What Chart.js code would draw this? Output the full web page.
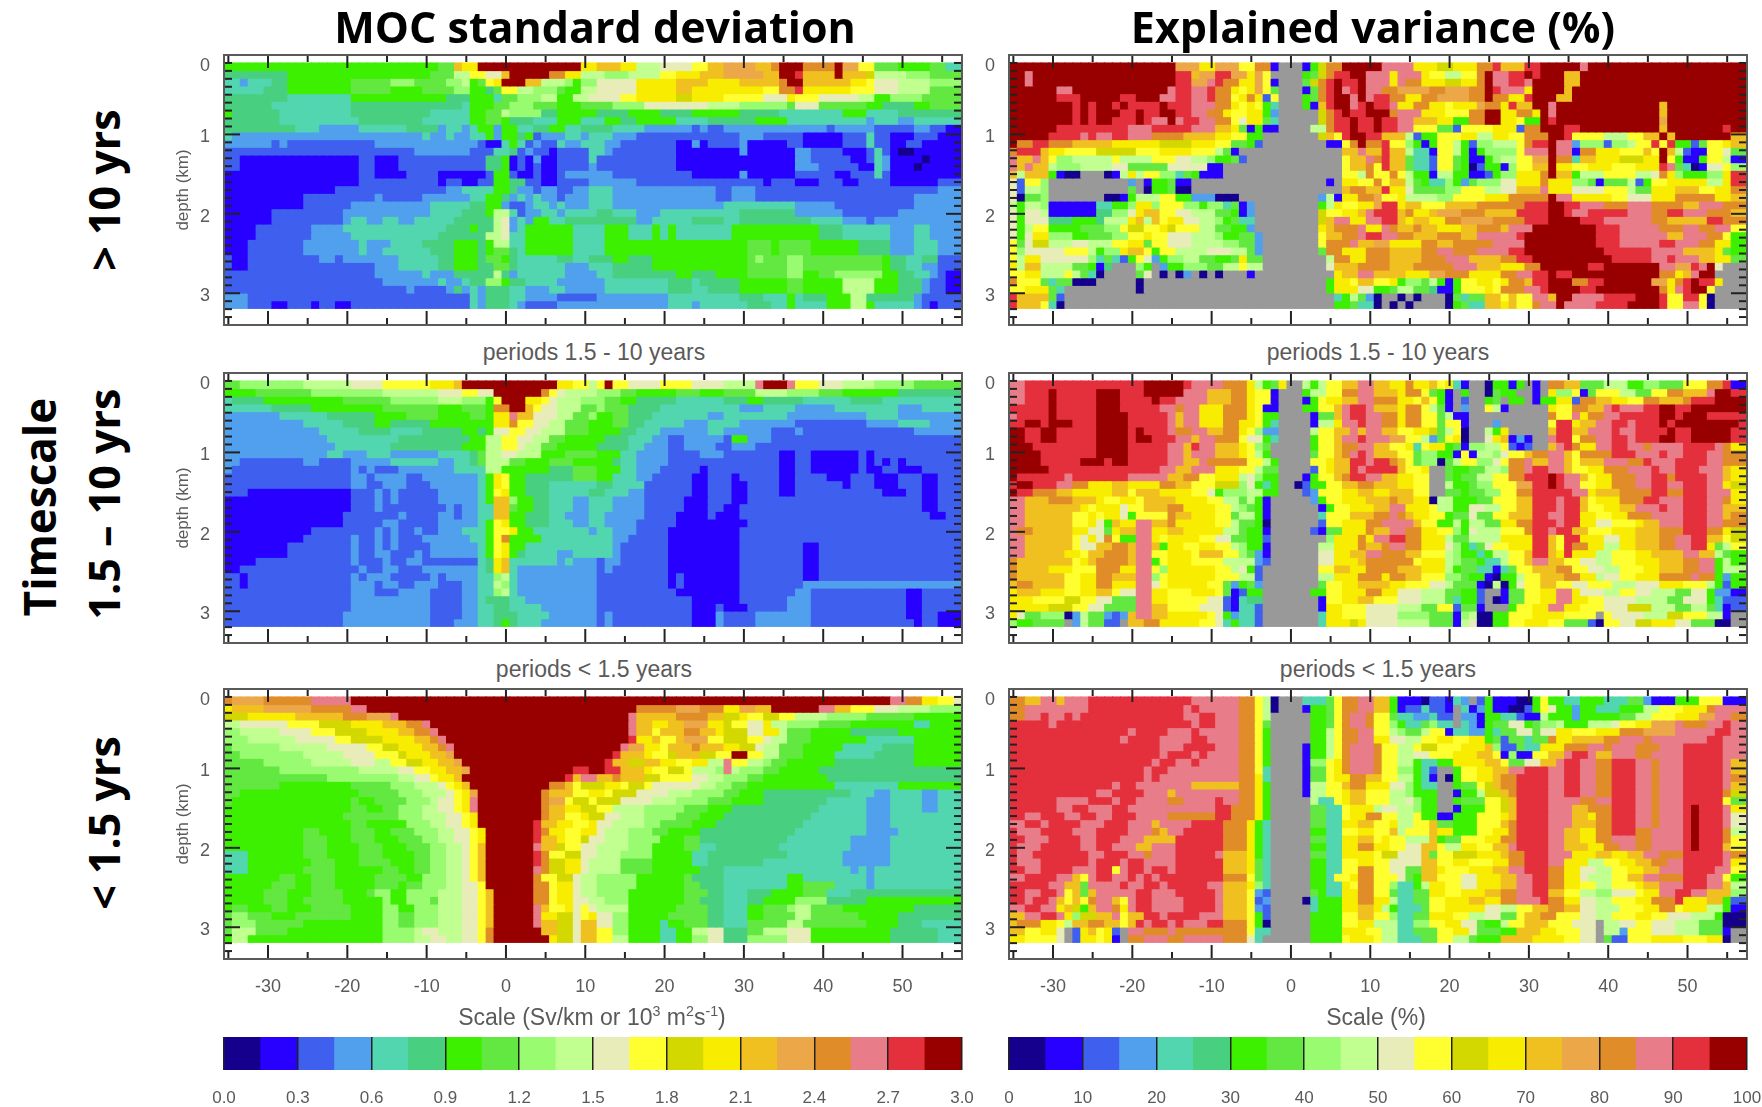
<!DOCTYPE html>
<html>
<head>
<meta charset="utf-8">
<title>MOC standard deviation and explained variance</title>
<script src="https://cdn.jsdelivr.net/npm/chart.js@4"></script>
<style>
html, body { margin: 0; padding: 0; background: #fff; }
#page { position: relative; width: 1762px; height: 1107px; overflow: hidden; font-family: "Liberation Sans", sans-serif; }
canvas { position: absolute; filter: blur(0.6px); }
.txt { position: absolute; transform: translate(-50%, -50%); white-space: nowrap; color: #5a5a5a; }
.big { font-family: "Open Sans", sans-serif; font-weight: 700; color: #000; }
.rot { transform: translate(-50%, -50%) rotate(-90deg); }
sup { font-size: 62%; line-height: 0; }
</style>
</head>
<body>
<div id="page"></div>
<script>
// longitude of each cell centre, depth layout of the rows
var lonCenters = [];
for (var lon = -35; lon <= 57; lon++) lonCenters.push(lon);
var surfaceDepth = 0.1;
var rowThickness = 0.0966;

var xMajorTicks = [-30, -20, -10, 0, 10, 20, 30, 40, 50];
var xMinorTicks = [-35, -25, -15, -5, 5, 15, 25, 35, 45, 55];
var depthTicks = [0.1, 1, 2, 3];
var depthTickLabels = ['0', '1', '2', '3'];

// colour levels a..t, 20 steps of the scale, z = no data
var levelCodes = 'abcdefghijklmnopqrst';
var levelColors = ['#14008c', '#2800ff', '#3f5fef', '#50a0ee', '#52d6b0', '#48d080', '#3cf000', '#62e840', '#98fb70', '#c0ff90',
                   '#e8ecb8', '#ffff30', '#d2d800', '#f8ec00', '#f0c020', '#eca848', '#e08c28', '#e87c88', '#e4303c', '#980000'];
var missingColor = '#999999';

var sdScaleTicks = [0, 0.3, 0.6, 0.9, 1.2, 1.5, 1.8, 2.1, 2.4, 2.7, 3.0];
var evScaleTicks = [0, 10, 20, 30, 40, 50, 60, 70, 80, 90, 100];

// each row is one depth level, tokens are level + longitude where that level starts
var sdLong = [
"g-36 h-8 o-6 n-5 t-3 n10 o12 n15 j17 k20 l24 o26 p28 o32 q34 t35 q38 t42 p43 l45 h47 g50 h54 e56",
"g-36 f-35 g-27 h-9 j-6 l-4 k-2 o0 t1 q6 n8 j10 i13 j16 l20 n22 o25 p28 o33 t35 s37 o38 t42 o43 m46 j47 i51 h54",
"f-36 e-35 d-33 e-32 f-29 g-27 h-19 i-14 h-11 i-7 j-5 g-4 h-3 l-2 n-1 t0 o3 j5 i8 g9 i10 k12 n17 o22 n26 o30 q35 t36 o38 n44 l46 k47 j50 i54",
"e-36 f-30 g-27 h-19 g-14 h-10 i-6 g-4 f-2 h-1 l0 j2 i4 h7 g8 j10 k12 n17 o22 n24 l33 q35 s37 n38 l44 k47 j50 h54",
"e-36 f-35 e-27 g-19 f-7 g-4 e-1 h0 i2 j5 g7 j9 k11 l15 n17 m22 n24 l28 k33 n36 l37 k40 j45 g47 i49 h53",
"f-36 e-29 f-19 e-5 g-4 h-1 i1 h4 g7 h10 i14 k18 j26 i30 h36 k37 h40 g46 f48 g52 h54",
"g-36 f-34 e-28 f-19 e-9 g-4 h-2 j0 i1 f5 g7 f12 g16 f20 g24 f30 e35 g43 e46 f50",
"f-36 e-28 f-18 e-10 g-4 h-2 g0 f1 e4 g7 e10 g13 f15 g17 e22 f26 g32 e36 d46 e47 d50 e52",
"f-36 e-26 d-23 e-18 f-12 d-8 e-7 d-5 e-4 g-3 d-1 g0 e2 f4 g6 e8 f10 e14 d18 c24 d25 c26 d28 c41 d42 c47 d52 c54 b56",
"e-36 d-34 e-10 d-9 e-7 d-6 e-4 g-2 d-1 g0 f2 g3 c4 d5 e8 d10 e11 d14 c17 d30 c33 b38 c43 e46 c47 b49 c52 b55",
"d-36 c-29 d-28 c-27 d-16 c-3 b-2 e0 g1 e2 c3 d4 c5 e7 d8 e10 d13 c15 b22 d24 b25 c26 d30 b31 c36 b38 c43 e46 c47 b49 c51 b53",
"c-36 d-11 c-4 e-1 f1 c2 d3 c4 b6 c7 e11 d13 c14 b22 d30 b31 d37 c39 b43 c46 e47 c48 b49 a50 b52",
"c-36 b-33 c-18 b-16 c-13 f-2 g0 b1 c2 b3 d4 b5 c7 e11 c12 b22 d37 c39 b44 c46 e47 d48 b49 a53 b54",
"c-36 b-33 c-18 b-16 c-13 f-2 g0 b1 c2 b3 c4 b5 c7 d11 c12 b22 d37 c40 b45 c47 e47 d48 b49 a52 b53",
"b-36 c-18 b-16 c-13 b-13 c-12 b-8 c-2 g-1 c1 b2 c4 b5 c7 d8 d13 c14 b24 d30 b31 c37 b42 c44 e47 c48 b49",
"b-36 c-18 b-8 c-7 b-5 c-3 g-1 f1 c3 b5 c7 d11 c17 d19 c19 b33 c34 b37 c40 b43 c45 b49 c55",
"b-36 c-21 d-7 e-5 g-1 f1 d2 c4 d5 c7 d9 e11 d14 c27 d29 c32 d55",
"b-36 c-25 d-16 c-15 d-10 e-4 g-2 f0 d1 e2 d3 e4 d5 c7 d8 e11 d14 c27 d29 c32 d52",
"b-36 c-25 d-19 e-9 f-4 g-2 d0 c1 d3 e4 d6 e7 d8 e11 d14 e28 d37 c42 d52",
"b-36 c-29 d-20 e-9 f-5 g-2 j-1 e1 c2 d3 e5 d7 e8 f12 e14 d17 e20 e28 f30 d37 c43 d50",
"b-36 c-29 d-20 e-19 d-17 e-15 d-13 e-11 f-6 j-1 k0 d1 e2 d3 g4 e6 f8 d17 e19 f24 e28 f30 e39 d43 c46 d47",
"b-36 c-31 d-24 e-20 e-15 f-7 g-4 f-3 j-1 k0 d1 e2 g3 e9 g13 e16 g19 e20 g21 e22 g29 f40 e43 d49 e52 d54",
"b-36 c-31 d-24 e-19 f-8 j-2 k0 e1 g3 e9 g13 e16 g19 e20 g21 e22 g29 f40 e43 d49 e52 d54",
"b-36 c-32 d-25 e-18 d-17 e-14 f-10 g-6 f-3 g-2 j-1 e1 g3 e9 g13 h31 g34 h35 g39 f45 d49 e52 d55",
"b-36 c-32 d-25 e-18 d-17 e-15 f-9 g-6 f-3 g-2 h-1 f1 e2 g3 e9 g13 h31 g34 h35 g39 f45 d49 e52 d55",
"c-36 b-34 c-32 d-23 c-21 d-20 e-13 f-8 g-6 f-3 h-2 g0 f1 e2 f7 e9 f11 g14 f16 g19 h31 i32 h33 i36 h38 g48 f49 e51 f53 c55",
"c-36 b-34 c-32 d-16 e-13 f-8 g-6 f-3 h-1 f1 e2 d8 e11 f14 g19 h31 i36 h38 g48 f49 e51 d53 c55",
"c-36 d-16 e-10 d-9 f-6 j-1 f0 d1 e2 d8 e12 f14 g22 f24 g27 h31 i36 g38 h40 i42 g48 f50 e52 d54 c55 b56",
"c-36 d-15 e-8 d-7 e-5 f-4 i-2 g0 f1 e3 d7 e13 f21 e24 f25 g30 h36 g38 j43 g47 f50 d53 c54 b56",
"c-36 d-12 c-11 d-7 f-6 d-5 e-4 d-3 f-2 e1 d3 e6 d8 e13 f21 e24 f26 g30 h36 g38 j43 g47 f50 d53 c54 b56",
"d-36 c-32 e-4 d-3 f-2 e1 d3 c7 d12 e21 f30 e33 g36 e37 f38 g41 j44 f46 d52 c53",
"d-36 c-32 b-29 c-27 b-24 c-23 b-21 c-19 e-4 d-3 f-2 e1 d2 c3 d7 e21 d24 e25 f31 e34 g36 e37 g41 j44 g46 e47 d52 c53 b54 c55"
];

var sdMid = [
"h-36 i-33 j-25 k-19 l-15 n-9 o-6 t-5 n7 l9 j11 l12 t13 l14 k16 l20 k24 j28 r32 t33 r36 l37 k40 j43 i47 h52",
"g-36 h-31 i-24 j-15 k-8 l-5 k-3 t-1 q5 l6 k7 j8 i12 h15 g17 h22 g25 h28 j32 i36 h40 g43 f50",
"e-36 f-34 g-30 h-20 i-14 j-8 i-5 g-2 l-1 t0 n3 l5 k6 j7 i10 h13 g15 f17 e22 f28 g31 f33 e38 f44 e48",
"d-36 e-35 f-29 g-24 h-15 g-8 h-5 g-2 q-1 t1 o3 l4 k5 j7 h10 i12 h13 f16 e20 d30 e33 d37 e42 d50 e53",
"d-36 e-28 f-22 g-16 h-12 g-8 h-4 g-2 n-1 r1 o2 k4 j7 h9 i11 g12 h14 f16 e19 d26 e28 d36 e46 d50",
"d-36 e-25 f-20 g-16 f-14 g-9 g-5 g-2 n-1 q1 l2 k4 j6 h8 g11 h14 f16 e18 d23 e26 d30 c37 d46 e50 d54",
"d-36 e-23 f-18 e-14 f-10 g-5 f-3 g-2 k-1 l1 k3 j5 h8 g11 f15 e17 d20 e26 d28 c34 d37 c38 d52",
"d-36 e-22 f-13 g-4 j-2 l0 k2 j4 h6 g8 f13 e16 d19 c21 d23 c28 g29 d31 c34",
"d-36 e-21 f-14 g-5 j-2 l0 k2 j3 h5 g7 f12 e16 d18 c21 d23 c27 d29 c32",
"d-36 e-22 d-20 e-17 d-14 e-8 f-4 h-3 j-2 k0 j2 g5 h8 g12 e15 d17 c21 d25 c28 b35 c37 b39 c45 b46 c47",
"d-36 c-33 d-25 c-23 d-19 e-14 d-8 e-6 f-4 h-3 j-2 h1 g3 h6 g9 f14 e15 d17 c21 c24 b35 c37 b39 c45 b46 c47 b48 c49 b50 c51",
"d-36 c-34 d-19 c-18 d-17 c-16 d-13 e-6 j-2 g0 g3 f6 h9 g12 e15 d17 c20 b25 c26 c31 b35 c37 b39 c45 b46 b47 c48 b50 b52 c53",
"c-36 d-19 c-17 d-16 c-12 d-10 e-3 g-2 n-1 l0 g1 f3 f6 h9 g12 e14 d17 c19 b24 c26 b29 c30 b35 c37 b41 c44 b47 c50 b53 c55",
"c-36 d-19 c-17 d-15 c-12 d-9 e-3 g-2 n-1 l0 g1 f3 e6 f12 e14 c18 b24 c26 b29 c31 b35 c37 b43 c44 b47 c50 b53 c55",
"c-36 b-32 c-19 d-16 c-15 d-14 c-13 d-8 e-3 g-2 l-1 n0 g1 f3 e6 f11 e13 d16 c18 b24 c26 b29 c31 b35 c37 b48 c51 b53 c55",
"c-36 b-35 c-19 d-16 c-15 d-14 c-13 d-8 e-3 g-2 o-1 i1 g2 f4 e6 d9 e11 d14 c18 b23 c26 b29 c31 c37 b53 c55",
"b-36 c-19 d-16 c-15 d-13 c-13 d-7 c-6 d-5 e-3 o-1 h1 g2 f4 e6 d9 e11 d14 c18 b23 c26 b28 c30 b53 c55",
"b-36 c-20 d-13 c-12 d-8 c-6 d-5 e-3 o-1 g1 f3 e6 d8 e11 d13 c18 b22 c26 b27 c30 b54 c56",
"b-36 c-20 d-15 c-13 d-8 e-3 g-2 l-1 n0 g1 f3 e6 d9 e11 d13 c17 b22 b27 c31",
"b-36 c-24 d-16 c-15 d-14 c-13 d-11 c-10 d-8 e-5 g-2 l-1 n1 g2 e4 d11 e12 d14 c17 b21 c30",
"b-36 c-25 d-19 c-18 d-16 c-15 d-14 c-13 d-10 e-4 g-2 l-1 q0 g1 e5 d14 c16 b21 c30",
"b-36 c-27 d-19 c-18 d-16 c-15 d-14 c-13 d-9 e-3 g-2 l-1 n0 g1 e3 d14 c15 b21 c30 b38 c40",
"b-36 c-27 d-19 c-18 d-16 c-14 d-11 c-10 d-9 e-3 g-2 l-1 n0 g1 f2 e3 d7 e9 d14 c15 b21 c30 b38 c40",
"b-36 c-31 d-19 c-18 d-15 c-14 d-12 c-10 e-3 f-2 n-1 o0 e1 d7 e8 d9 c12 d13 c15 b21 c30 b38 c40",
"b-36 c-33 d-18 c-17 d-15 c-13 d-10 e-3 f-2 n-1 o0 e1 d2 c12 d13 c14 b21 c30 b38 c40",
"c-36 b-33 c-32 d-19 c-18 d-17 c-14 d-9 c-8 d-7 e-3 i-1 j0 e1 d2 c12 b21 c22 b23 c30 b38 c40",
"c-36 b-33 c-32 d-19 c-16 d-15 c-13 d-11 c-8 d-5 e-3 j-1 i0 e1 d2 c12 b21 c22 b23 c30 d38",
"c-36 d-19 c-16 d-13 c-9 d-5 e-3 i-1 j0 e1 d2 c12 b22 c30 d37 c39 b51 c53",
"c-36 d-19 c-9 d-5 e-3 f-2 e1 d3 c12 b24 c30 d36 c39 b51 c53",
"c-36 d-19 c-9 d-5 e-3 f-1 e1 d5 c12 b24 c27 b28 c31 d36 c39 b51 c53",
"c-36 d-20 c-9 d-5 e-3 f-1 e2 d6 c12 d13 c14 b24 d27 c28 d32 c39 b51 c53 b55",
"c-36 d-20 c-9 d-6 e-3 f-1 g0 f1 e2 d5 c12 d13 c14 b24 d27 c28 d32 c39 b52 c53 b55"
];

var sdShort = [
"q-36 p-34 q-30 r-24 t-19 t30 r49 q51 n53 l55 k57",
"n-36 o-34 p-30 q-24 r-19 t-17 q17 p22 q25 n28 p30 o32 t34 r40 o42 l44 k47 j50 i54",
"l-36 m-35 n-32 o-26 q-20 p-17 r-14 t-13 r16 o17 q22 o26 m28 n30 l31 m33 l35 j37 i41 h46 g52",
"j-36 k-33 l-27 m-23 n-19 o-15 q-12 r-10 t-9 r16 o17 n19 o21 p23 n26 m28 l29 k31 n33 j34 i36 h40 g44 e52 g54",
"i-36 j-33 k-28 l-24 m-21 n-17 o-13 q-11 r-9 t-8 r16 o17 l19 o20 q23 o25 n27 m28 l31 k31 n33 j35 h36 g39 f44 g50",
"i-36 j-32 k-26 l-21 m-19 n-15 o-11 q-9 r-8 t-7 s16 n17 o19 l20 o22 p23 l26 m28 l31 k33 j34 h36 g39 e46 g52",
"h-36 i-34 j-28 k-22 l-17 m-15 n-13 o-10 q-8 r-7 t-6 r15 p16 n18 l20 o21 q24 o25 n28 m30 k32 j33 h35 g38 e43 f48 g52",
"h-36 i-33 j-25 k-20 l-16 m-13 n-12 o-9 p-7 t-6 s14 o15 n18 l19 m21 o22 m25 l27 t29 l31 j33 h35 g38 e42 f47 g52",
"h-36 i-30 j-24 k-19 j-16 l-14 m-12 n-10 o-8 p-6 t-5 s13 o14 m16 o18 n20 l22 n24 j26 r28 l29 j31 i33 h34 g36 f42 g52",
"h-36 i-28 j-18 k-13 l-11 n-9 o-7 p-5 t-4 s9 t11 s13 o15 n18 l19 m21 l23 j24 i27 r28 j29 i30 h33 g35 f40",
"g-36 h-35 i-22 j-13 k-11 l-9 n-8 o-6 t-5 s8 o9 r10 o12 q14 o15 m18 l20 k24 j26 i28 h31 g33 f41",
"h-36 g-28 h-19 i-14 j-11 k-8 l-7 n-6 o-5 t-4 q6 o8 l9 m10 n13 l15 m16 l18 k19 j25 i27 h29 g31 e42 g50",
"h-36 g-33 h-18 i-13 j-10 k-7 l-6 n-5 p-4 t-3 q5 o6 l9 n11 l13 m14 k17 j21 i24 h28 g30 f33 e44 d47 e49 d53 e55",
"h-36 g-34 h-19 g-18 h-16 i-12 j-9 k-8 l-6 n-5 r-4 t-3 q5 p6 l8 m9 l11 m12 k15 j19 i22 h26 g29 f33 e41 d46 e49 d53 e55",
"g-36 h-19 g-17 h-15 i-13 j-10 k-8 l-6 n-5 r-4 t-3 q5 o6 n8 m10 l12 j14 i18 h23 g26 f29 e40 d46 e49 d53 e55",
"g-36 h-20 i-13 j-10 k-7 l-5 n-4 t-3 q5 o6 l8 n10 m11 k13 j15 i18 h22 g25 f28 e39 d46 e49",
"g-36 h-19 g-17 i-12 j-9 k-7 l-5 n-4 t-3 s4 o5 n7 l9 n11 k12 j14 i18 h20 g24 f27 e38 d46 e49",
"g-36 h-25 g-23 h-19 g-16 h-14 i-11 j-8 k-6 l-4 n-3 t-2 s4 q5 n6 l8 n10 k12 j13 i16 h19 g21 f25 e37 d46 e50",
"g-36 h-25 g-22 h-19 g-16 h-13 i-10 j-8 k-6 l-4 n-3 t-2 s4 o5 n7 l8 m10 k11 j13 i16 g20 h23 f25 e36 d44 e49",
"f-36 g-35 h-25 g-22 h-18 g-15 h-12 i-9 j-7 k-5 l-4 o-3 t-2 r4 o5 m7 l8 k10 j12 i16 g19 h23 e25 f27 e35 d44 e49",
"g-36 e-35 g-32 h-25 g-22 h-18 g-15 h-11 i-9 j-7 k-5 l-4 o-3 t-2 s4 q5 l6 m8 k10 j12 i15 g19 e24 f26 e36 d43 e49",
"g-36 e-35 g-32 h-24 g-21 h-18 g-14 h-11 i-9 j-7 k-5 l-4 o-3 t-2 s4 q5 m6 n8 k10 j11 h15 g19 e24 f26 e33 d43 e49",
"g-36 e-35 g-32 h-25 g-21 h-15 g-13 h-11 i-9 j-7 k-5 l-4 o-3 t-2 r4 q5 m6 n8 k10 j11 h15 g19 f25 e28 d44 e45 d46 e47",
"g-36 h-28 g-26 h-24 g-21 h-16 g-12 i-10 j-7 k-5 l-4 o-3 t-2 q4 l5 m7 k9 j10 i12 g17 h23 f24 e28 g36 e38 d46 e47",
"g-36 h-29 g-26 h-24 g-21 h-16 g-13 h-12 i-10 j-7 k-5 l-3 o-2 t-2 q4 l6 n7 k9 j10 i12 g17 h23 f25 e28 g36 h38 e42 d46 e47",
"g-36 h-30 g-27 h-24 g-20 h-17 i-16 g-14 i-12 j-8 k-5 l-3 o-2 t-1 q4 l6 n7 k9 j10 i12 g16 h23 f26 e28 f31 g34 h38 e41 f44",
"g-36 h-30 g-27 h-25 g-20 i-15 g-14 i-12 h-9 j-8 k-5 l-3 o-2 t-1 q4 l6 n7 k9 j11 i13 g16 h23 f25 e28 f31 g33 i37 f41 g46",
"g-36 h-34 g-32 h-29 g-27 h-24 g-19 i-15 g-13 i-11 j-8 k-5 l-3 o-2 t-1 r4 o5 l6 n8 k9 l10 k11 j12 g16 h22 f26 e28 g31 h33 i36 j37 h39 g43 f52",
"h-36 i-34 h-32 g-29 h-26 g-19 i-15 h-13 i-11 j-8 k-5 l-3 o-2 t-1 r4 n5 m7 k9 l10 n11 k12 i14 g16 h21 f26 e28 g31 h33 j37 h39 g45 f50",
"h-36 i-34 h-31 g-25 i-15 h-13 i-11 j-8 k-5 l-3 o-2 t-1 r4 o5 m7 k9 o10 k12 i14 g16 e20 g21 h23 f26 e28 h31 j36 h38 g46 f50 e53",
"h-36 j-34 h-31 g-27 i-15 j-11 k-10 j-8 k-5 l-3 q-2 t-1 o5 m7 k9 o10 l12 i14 g16 e20 g22 j24 k26 f28 h31 j33 k36 g39 f49 e55",
"g-36 j-34 g-32 i-15 j-11 k-9 j-7 k-5 l-3 q-2 t-1 n6 m7 k9 o10 l12 j14 g16 e20 g22 i24 k26 f28 i31 k36 g39 f49 e55"
];

var evLong = [
"t-36 p-14 n-11 m-9 p-9 l-6 r-5 l-5 q-4 b-2 z-1 b2 g3 m4 q5 t7 r12 n16 m19 n21 q24 s26 o27 s30 t32 r37 t38",
"t-36 r-33 t-32 s-14 o-12 p-11 s-9 p-7 n-5 p-4 l-3 z-2 g2 h3 m4 q5 s6 t8 r10 n13 r14 n17 l18 j20 l22 q24 t25 r26 s28 t30 s31 t32 o35 t37",
"t-36 r-33 t-32 s-14 p-12 r-10 s-9 q-8 n-6 p-4 l-3 b-2 z-1 h2 m3 q4 s5 t6 s7 t9 r10 n13 r14 q15 n17 m20 n22 q24 t25 r26 s28 r30 t31 o35 t37",
"t-36 r-29 t-27 r-15 s-14 r-12 s-10 q-9 n-7 l-6 n-5 p-4 l-3 h-2 z-1 b2 h3 q4 s5 t6 r7 s8 t9 r10 q12 p14 q18 p20 q23 t25 s26 r27 n30 t31 o35 t36",
"t-36 s-29 t-26 s-21 t-19 r-16 s-14 r-12 s-10 q-9 l-7 n-6 q-5 n-4 c-3 l-2 z-1 g2 h3 q4 s5 t6 r8 t9 r10 s11 q13 n15 q17 p19 q23 t25 q26 n28 s30 t31 o34 t36",
"t-36 s-27 t-26 s-25 t-24 s-22 t-21 s-20 t-16 s-15 r-12 q-9 n-7 l-6 n-5 l-4 g-3 e-2 z-1 g2 b3 o4 s5 t6 r8 s9 t10 s11 r13 n14 q16 n18 l20 n21 p24 q25 n27 s28 o29 t31 r33 t34 o47 t48",
"t-36 s-27 t-26 s-25 t-24 s-21 t-19 s-18 t-16 s-14 r-12 q-10 n-8 l-7 n-5 g-3 d-2 z-1 m4 q5 s6 t7 s8 t10 q13 r14 n17 l20 q23 t25 n27 q29 n31 t32 r33 t34 o47 t48",
"t-36 s-27 t-26 s-25 t-24 s-22 t-19 s-18 r-17 t-15 r-14 s-13 r-11 q-9 l-7 k-6 n-5 h-3 e-2 z-1 m4 q5 s6 t8 s9 t11 s12 r14 o16 n19 g21 q23 t25 n27 l29 g30 t32 s33 t34 p47 t48",
"t-36 s-29 r-20 s-17 r-12 o-9 n-7 l-6 h-6 b-5 g-4 b-3 z-1 j3 q5 s6 t8 s9 t11 s12 r14 l16 h19 c21 l22 n26 c29 q30 t32 s35 t37 o47 t48 s55 t56",
"t-36 s-30 r-26 s-25 r-24 s-22 r-20 q-17 o-13 n-9 l-7 g-5 z-3 m4 o5 l6 s7 t8 s10 o12 j15 c16 g17 l19 n22 j24 n26 l28 q30 t33 s35 l36 j40 l43 o45 t47 o48 t49 o56",
"t-36 q-34 s-32 q-30 o-27 n-22 m-16 n-12 l-9 h-7 g-5 c-4 z-3 b5 l7 q8 t9 q10 s12 l13 i15 g16 b17 g18 l19 j21 g22 c23 i24 j26 l29 q30 s31 t33 r34 d36 i37 c40 i41 j43 l44 s46 l47 s48 g49 c51 h52 l53 n55 o56",
"q-36 s-34 o-31 n-30 l-28 m-24 l-19 n-16 l-12 j-9 h-8 b-7 z-6 o7 r9 o10 s12 o13 j15 e16 b18 l19 j21 g22 b23 g24 i25 l29 r30 t33 r34 b36 q37 n39 l42 o45 l46 t47 o48 j49 c50 b51 l53 k55 h56",
"r-36 o-34 r-32 o-31 l-30 i-29 j-27 l-22 j-21 l-17 k-14 j-12 i-10 g-9 h-7 c-6 z-5 l7 o8 r10 q11 s12 o13 h15 e16 c18 l19 h21 g22 b23 g25 i26 j27 l29 p31 t33 q34 e36 o37 n39 m42 n45 s47 t47 l48 g49 b50 g52 l53 j55 b56",
"r-36 o-34 r-33 o-32 j-30 i-29 j-26 k-22 h-20 k-15 h-10 g-9 b-10 z-8 l7 o8 q10 l11 s12 o13 h15 e16 c18 l19 h21 g22 a23 c24 g25 b27 i28 l29 o31 t33 n34 l36 n38 l41 n44 s47 r48 h49 e50 a51 b52 k53 l55 i56",
"n-36 o-35 j-34 o-33 g-30 b-29 a-28 z-26 a-23 b-22 j-21 n-20 j-19 l-18 i-16 e-14 h-13 g-12 b-11 z-8 l7 j9 q10 l11 q13 l14 j15 g16 b18 j19 g21 b23 c25 g26 i27 n29 q32 t33 o34 g36 j37 l40 j44 k46 q47 n48 i49 g50 i53 n55 s56",
"n-36 k-35 c-34 l-33 i-31 z-30 d-20 z-19 b-18 g-17 h-15 b-14 z-12 b5 z6 a7 n7 l9 q11 l12 o13 j15 h16 g17 e18 i20 g21 d22 h23 i24 k27 n29 q32 n33 i36 h38 b39 h40 j43 c44 g45 l46 n48 j53 n55 s56",
"n-36 k-35 c-34 j-33 i-31 z-30 h-20 z-19 a-18 g-17 h-15 a-14 z-12 o7 q8 o10 s12 n13 k15 h16 i20 l22 j25 k27 o29 r32 n33 k36 l40 j43 h44 n46 o49 l52 n54 q56",
"l-36 k-35 a-34 h-33 i-31 z-30 a-23 b-21 g-20 j-19 l-16 g-14 d-12 a-9 z-6 d4 j5 b6 n7 q9 p11 l12 n14 j15 i19 l21 n25 q28 t33 r34 n36 l41 k43 n46 q49 n54 o56",
"n-36 j-35 g-34 j-33 i-31 b-30 e-24 g-22 i-20 n-19 i-17 l-16 i-13 g-11 i-10 e-8 h-7 b-6 d-5 z-4 g4 j5 n6 l7 n9 p11 s12 n14 o15 l17 o20 q24 s30 t33 s35 r37 q40 r43 q46 o50 r52 q55",
"n-36 k-35 g-34 k-33 j-31 b-30 f-24 i-22 k-20 n-19 o-18 l-16 k-14 j-12 h-9 g-7 b-6 d-5 z-4 m4 l5 n7 o9 r10 s11 o14 q15 n16 o18 p19 q22 o25 s29 t33 s35 r36 s38 r43 q46 s48 r50 q53 o56",
"n-36 k-35 g-34 k-33 f-30 g-27 f-24 j-23 i-20 n-20 o-19 j-18 o-17 l-16 n-15 k-13 j-11 i-9 g-8 h-7 e-6 z-4 m4 o5 r6 n8 r10 s12 o14 n15 o16 n18 q20 p22 q26 s30 t33 s37 r40 q46 o48 s53 q55",
"n-36 k-35 g-34 j-33 l-32 g-30 h-26 i-23 l-21 m-20 l-18 n-16 m-15 l-14 j-11 h-9 g-7 d-5 z-4 n4 o5 q6 r9 n10 r12 q13 o14 q16 o17 n19 o22 q24 o27 r28 t31 s39 r42 q47 r50 q52 r54 l56",
"m-36 k-35 g-34 k-33 n-32 i-30 g-27 h-25 i-22 l-20 n-18 l-17 k-15 j-12 i-9 g-8 h-6 d-4 z-3 l4 o5 q7 r9 s10 r12 q14 o16 q19 o22 r24 s29 t30 s39 r42 o48 r50 q53 l55 g56",
"m-36 l-35 h-34 k-33 m-32 j-30 k-27 j-25 l-22 n-20 h-18 l-17 k-15 j-12 i-8 h-6 d-4 z-3 l4 q5 r8 o9 p11 n13 q17 o19 q21 r26 t30 s39 r42 s47 r49 q52 n54 g56",
"m-36 l-35 i-34 k-33 l-28 j-25 g-24 i-23 n-21 o-20 l-18 g-17 l-16 j-14 k-10 j-7 h-5 d-4 z-3 h4 q5 n7 q10 o13 q17 r19 q21 r24 s28 t30 s40 r46 o50 n54 h55 g56",
"n-36 l-35 j-34 n-33 k-31 i-25 e-24 h-23 e-22 c-21 g-20 l-19 k-18 d-17 g-16 i-15 j-13 h-11 g-9 h-7 n-6 h-5 z-3 j5 q6 n8 q10 o13 q17 r20 o23 q27 s29 t31 s41 r46 s48 r49 o52 n54 h56",
"o-36 n-35 j-34 o-33 j-31 h-27 g-25 b-24 f-23 z-22 i-19 g-18 z-17 d-16 g-15 i-13 h-10 j-8 l-6 j-5 z-3 k5 o6 q9 o13 q16 r21 o24 n27 q30 t32 s38 t40 r47 p49 s51 r52 t53 k54 z55",
"p-36 l-35 n-33 j-31 l-28 j-27 h-26 e-25 a-24 z-23 h-19 k-18 z-17 a-16 z-15 a-14 d-13 z-12 a-11 z-10 a-9 z-8 b-5 z-4 n6 o7 r9 o11 n15 p18 q20 n23 q27 r29 s31 t33 s34 t36 q47 n49 o50 r51 t52 z54",
"q-36 l-34 h-31 e-30 h-29 a-27 z-24 a-19 z-18 g5 n6 l8 o9 l11 n13 g14 i15 h17 j18 g19 b20 g21 l22 n24 l26 n27 q28 o30 s31 t33 q36 s38 t40 p46 n48 q49 s50 t51 s52 n54 z55",
"q-36 l-35 n-33 h-30 e-29 z-28 a-19 z-18 g5 n6 k9 g11 h13 j14 h16 f18 b19 g21 l22 n25 l26 q27 r30 s32 t33 s37 t39 q47 n48 r49 s50 t51 l53 z54",
"s-36 o-34 h-30 c-29 z-28 e6 g7 j8 h9 d10 a11 z12 a14 z15 a16 z17 a20 h21 e22 h23 o25 l27 o28 l29 r31 o33 t34 r36 s40 t44 s47 l48 s50 l52 a53 z54",
"s-36 o-34 l-31 e-30 a-29 z-28 g6 h8 e9 a11 z12 a13 z14 a15 z16 a20 g21 h22 e23 o25 n27 o28 l29 q31 r32 t34 r35 s39 t43 s47 l48 r50 l52 a53 z54"
];

var evMid = [
"n-36 r-35 s-33 t-18 s-13 r-12 q-8 n-5 j-4 g-3 h-2 n-1 z0 j2 g3 j4 l5 o7 r9 o11 n13 q15 n16 o18 l19 n20 e21 b22 z23 a25 g26 b28 g29 z30 b31 z32 q33 o35 h37 j40 g43 i45 h47 l50 q53 s55 b56",
"o-36 r-35 s-33 t-30 s-29 t-24 s-21 t-18 r-13 o-10 q-7 n-5 l-4 b-2 z-1 g2 b3 j3 l5 q7 r9 o11 n14 q15 l17 h18 g19 b20 z21 g22 z23 a25 h26 g27 z29 b31 z32 n33 i34 l36 b37 h38 l39 j42 h44 l46 q48 o50 r53 t54 s56",
"o-36 r-35 s-33 t-30 s-29 t-24 s-21 t-17 s-16 r-14 o-10 q-7 n-5 l-4 b-2 z-1 b2 g3 l4 n5 o7 r9 q11 n14 l16 o17 l18 g19 b20 z21 c22 z23 g25 h26 z27 g28 z30 b31 g32 n34 c36 q37 o39 n41 l43 q45 o47 q50 s51 t54",
"o-36 s-35 t-30 s-29 t-24 s-21 s-18 r-16 q-14 r-13 n-11 q-8 n-5 l-4 b-3 z-1 g2 l4 o6 r7 s8 r10 o11 n14 q15 l17 j18 h19 b20 z21 d22 z23 l25 j26 b27 z28 n33 l34 q36 o38 r40 s41 r42 s45 t47 s49 t51",
"o-36 r-35 s-34 t-30 s-29 t-24 s-20 r-15 o-14 r-13 n-11 q-8 n-5 l-4 g-3 z-1 b3 h4 o6 r7 s8 r10 q12 n14 q15 l17 h19 j20 b21 z23 q33 l34 r36 n37 q38 r40 s42 t47 s49 t50 s53",
"r-36 s-35 t-33 s-31 t-30 s-27 t-24 s-20 r-15 o-14 r-13 n-11 q-8 n-6 l-4 g-3 e-2 z-1 b3 j4 n6 r7 s9 r10 q12 n14 q15 l17 h19 l20 b22 z23 d26 z27 l33 s34 n36 o37 r39 s41 r43 s44 t47 s48 t49 s57",
"s-36 t-35 s-33 t-31 s-29 t-24 s-20 t-19 s-18 r-15 q-14 r-12 o-10 q-8 n-6 l-5 i-4 d-3 z-1 j3 l4 o6 r8 o9 r10 o12 l14 n16 m18 h19 j20 l21 a22 z23 j25 g26 n27 z28 o33 s34 o36 r38 s41 r42 s44 t48 s49 t51 s56",
"t-36 s-33 t-31 s-29 t-24 s-20 t-19 s-17 r-14 o-12 r-11 q-9 l-6 k-5 g-3 e-2 z-1 g3 l4 o6 r7 o9 s9 r10 p13 l15 j17 d18 h19 l20 n21 a22 z23 k25 n26 o27 b28 d29 b30 z31 r33 s34 l36 q37 r39 s41 r43 s44 t47 s49 t51 s56",
"t-36 s-32 s-26 t-24 s-20 r-15 o-13 s-12 r-11 o-9 n-6 l-5 i-4 h-3 z-2 g3 l4 o6 q7 r9 o11 l13 n15 e16 l17 n18 g20 h21 b22 i23 j25 l27 c28 b29 c30 z31 o33 r34 s35 q36 n37 r39 s41 r43 q45 r46 s50 r54 q55 n56",
"t-36 s-31 t-24 s-20 r-15 o-13 r-12 o-9 n-6 l-5 j-4 g-3 z-2 h3 l4 o6 q7 r8 s9 r10 o11 l14 h16 i17 g19 b21 l22 h23 b23 j24 i26 k27 l28 o30 q31 r33 o35 l36 q37 s41 r44 s47 r48 s50 r53 q55",
"t-36 s-31 t-26 s-23 t-22 s-20 r-15 o-13 r-11 q-10 l-5 j-3 g-2 z-1 l3 n5 o6 s8 r10 s11 q13 o14 l15 h16 i17 a19 h20 j21 l22 i24 k26 l27 q28 r30 o31 r33 o35 l36 o37 r40 q43 s45 r46 s49 r53 q55",
"t-36 s-30 r-16 o-14 r-12 n-9 l-6 j-4 h-3 z-1 c3 l4 n5 o6 s8 r9 s10 o14 l15 n17 z18 h20 g21 h23 j25 i27 q28 r30 s31 r33 o35 l36 n38 q40 r43 s46 r47 s49 r52 o55 n56",
"t-36 s-34 r-28 s-27 r-20 o-15 q-13 l-11 n-9 j-6 k-5 i-4 g-3 z-1 b2 g3 l4 o6 q7 s8 r10 o12 n14 l16 z18 h20 g21 h22 j24 l26 q28 s30 t33 s34 r35 o37 l38 n39 q41 r44 s46 q48 s49 r53 o55 n56",
"t-36 s-35 t-34 s-32 r-29 q-27 n-25 o-22 n-20 q-16 o-14 l-12 m-9 i-6 k-5 g-4 e-3 g-2 z-1 a1 c2 g3 l5 o7 q9 o11 n14 l16 z18 j20 g21 h23 i24 l26 p29 s31 t33 s34 r35 l37 n39 q41 r44 s46 r48 s50 r53 n55 m56",
"s-36 t-35 s-34 q-32 o-29 n-27 o-22 l-20 o-19 n-16 l-12 k-10 g-9 i-8 j-5 g-3 z-1 c2 d3 l4 n7 o9 n11 o13 l16 z18 h20 g22 h23 i25 l27 q29 s31 r36 n38 o39 q42 s46 q48 s50 r53 n56",
"s-36 r-35 o-33 q-30 o-27 n-24 l-23 n-21 l-19 o-18 n-14 l-10 j-8 h-6 j-5 g-4 b-3 z-2 d3 g4 l5 n7 o10 q13 o14 n16 a18 j19 g21 h24 l26 o29 s31 r34 s35 o37 l38 n39 q42 s45 r47 s50 r53 q55 n56",
"s-36 r-35 o-33 n-26 l-25 n-24 k-21 l-20 o-18 q-15 n-13 l-9 j-7 i-6 h-5 g-4 b-3 z-2 b4 g5 l6 n8 o11 r13 n15 l18 j19 g21 k23 j25 l27 o29 s31 r34 s35 o37 l38 n40 o42 r44 s47 r48 s50 r53 o55",
"r-36 o-33 l-27 n-25 l-24 n-23 k-21 g-20 l-19 q-15 o-14 n-12 l-9 h-7 j-6 g-4 b-3 z-2 e4 l5 o8 q11 r13 q14 o15 n16 l18 g20 h21 k23 h24 l26 o28 s31 r33 s35 n37 l39 n41 q43 r46 s50 r53 o55 q56",
"r-36 o-33 l-27 n-25 k-24 g-23 o-22 n-21 r-19 o-17 q-15 n-14 l-9 j-7 h-6 g-4 a-3 z-2 c4 l5 n7 q10 r12 o16 l17 g19 j21 g22 j23 h25 n27 q29 s31 r34 s35 n37 k39 l41 n44 o45 r47 s50 r53 q55",
"r-36 q-34 o-32 n-27 k-25 h-23 n-22 o-21 r-19 n-17 o-15 n-13 j-8 h-6 g-5 b-3 z-2 c3 b4 h5 n7 q10 o11 r13 q15 n17 l19 i21 g22 k23 j24 l27 q30 s31 r33 s34 o36 l38 n41 o44 q47 s50 q53 n55 m56",
"r-36 o-33 l-27 k-26 n-25 k-24 q-23 l-22 g-21 r-19 n-17 l-16 n-15 l-11 k-9 h-7 g-5 c-3 z-2 i5 n6 q9 n10 r11 s13 q15 n17 j20 h21 j23 n27 s31 o33 l34 s35 n37 k40 n42 o44 q47 r49 s51 o53 l55 m56",
"r-36 o-33 l-27 k-26 o-24 q-22 o-20 r-19 o-17 g-16 n-15 l-13 n-11 l-9 j-7 i-6 g-5 b-3 z-2 j4 n6 q9 o10 q12 r13 q15 n17 k20 i21 g22 e23 h24 k25 l26 n28 s31 o33 l34 s35 q36 n38 j40 n42 o44 q47 r49 s51 n53 h54 j55 l56",
"r-36 o-33 n-28 l-26 o-25 q-23 o-20 r-19 l-17 n-15 l-12 o-11 l-8 i-6 h-5 d-4 b-3 z-2 k4 n6 o8 r10 q12 o15 l17 j20 i21 g22 e24 g25 j26 l28 o30 s31 o33 n34 s35 n36 j39 l41 n44 o46 r50 o52 j54 h55 g56",
"q-36 o-34 l-27 n-26 o-25 q-24 o-20 r-19 g-17 l-16 n-15 l-12 j-8 j-7 d-4 c-3 z-2 k4 n6 o9 q10 l16 n17 j20 i21 h22 g24 e25 j27 l28 o30 r31 o33 l35 k37 j39 l41 n44 o47 q50 r52 g54 j55 g56",
"q-36 o-34 n-30 l-27 q-24 n-21 r-19 l-17 i-16 n-15 l-9 j-7 k-6 g-5 c-4 z-3 l4 o6 n8 q10 o14 n17 j20 g21 h22 e24 b26 e27 h28 l29 o31 q34 l36 k38 j40 l42 n45 o47 q50 r52 g54 j55",
"q-36 o-34 l-28 n-26 q-24 o-22 r-19 i-17 l-16 n-15 l-9 j-6 c-4 z-3 j4 n6 q9 n12 q13 o15 l17 i20 h22 g23 b25 a26 g27 j29 l30 o32 q35 n37 j39 k40 l42 n44 q47 r51 q52 g54 d55 g56",
"o-36 q-34 o-32 l-28 n-26 q-24 n-22 r-19 k-17 l-16 n-15 l-10 h-8 d-7 g-6 h-5 d-4 z-3 h4 l5 n7 o9 n13 l15 k18 j20 h21 b24 a25 j26 a27 g28 k29 l30 o32 l34 k36 l38 j41 k44 n47 l50 j53 g54 c55 g56",
"n-36 o-34 n-31 l-28 n-26 o-24 l-22 k-21 r-19 n-17 l-15 n-12 l-9 h-8 b-7 c-6 g-5 z-3 g3 l5 n7 q10 n12 k14 j17 h20 g22 c24 z25 b27 h28 l30 n32 r34 n36 k37 j40 l42 k44 j46 h49 k51 g53 d54 b56",
"n-36 l-32 m-28 l-26 k-24 h-22 r-19 n-17 l-15 k-10 c-8 b-7 e-6 f-5 z-3 b4 l5 n7 o9 l11 k14 j17 h20 e21 g22 c24 z25 a26 z27 b27 h28 l30 n32 r34 n36 l38 k40 j44 h48 k50 g53 e54 c55",
"l-36 n-35 m-30 l-27 k-25 h-23 r-19 o-17 l-15 k-11 c-8 b-7 e-6 c-4 z-3 b4 n5 l7 k10 j14 h17 l19 c21 h22 b24 z25 g28 l29 n31 r33 n35 l37 k40 m43 j46 h49 j51 h53 e54 b55 c56",
"n-36 k-34 h-33 i-31 a-28 d-27 j-26 h-25 d-23 c-22 d-21 o-20 r-19 o-17 n-15 l-10 k-9 g-8 d-7 e-6 c-4 z-3 e4 n5 l7 k10 i14 h18 b21 i22 j23 a24 g26 l28 n31 l35 z39 l40 k41 j45 m48 l50 j53 b55 z56",
"n-36 i-35 g-34 h-32 z-28 d-27 j-26 h-25 c-23 z-21 o-20 q-18 n-16 l-11 k-9 e-8 g-7 e-6 c-4 z-3 e4 n5 m8 n9 k10 j14 h18 b21 j22 k23 a24 g26 l28 n30 l33 h35 c38 a39 l40 k42 m44 n46 k49 h51 a54 z56"
];

var evShort = [
"l-36 q-35 o-33 r-31 o-29 r-28 s-25 r-12 q-6 l-4 j-3 a-2 z-1 e2 h5 l6 q7 r9 o11 g13 b14 a17 c18 b20 e21 d22 z23 c24 g25 b26 a29 g31 l32 g33 e35 g37 e40 h43 d45 b46 g49 l52 b55",
"n-36 q-35 r-33 s-25 r-13 s-12 r-11 q-6 l-4 j-3 a-2 z-1 b2 g3 h5 l6 q7 r9 o11 g13 b14 c15 e17 c18 b20 z21 e22 b23 d24 g25 b26 a28 c30 g31 l32 k33 g34 d36 g37 e39 g42 j45 l47 n50 q53 r54",
"q-36 r-33 s-31 r-30 s-28 r-27 s-26 r-13 s-11 r-9 q-6 l-4 j-3 z-2 g3 h5 l6 q7 r8 q10 l11 h13 e14 d16 e18 c19 z21 d22 b24 g25 e27 c29 b30 j32 g33 d36 g37 h42 j44 l46 n49 p52 r54 q56",
"r-36 s-35 r-30 s-29 s-25 r-12 s-11 r-9 q-6 l-4 h-3 z-2 g3 h5 l6 q7 r8 q10 l11 i13 g14 e15 h17 i18 e19 z21 e22 d23 b24 g25 h26 k28 g30 h31 i32 j34 g35 j38 k41 l42 n44 p46 r49 q50 r53 s55 r56",
"r-36 s-35 r-20 s-19 r-15 s-12 r-11 q-6 l-4 g-3 z-2 g3 j5 l6 q7 r9 l11 j13 i14 h15 j17 l18 b20 e21 d23 g25 e26 h27 k29 h31 k32 n34 l36 n39 q42 p45 r49 s54 r56",
"s-36 r-21 s-20 r-16 s-12 r-10 q-6 l-4 g-3 z-2 g3 j5 l6 q7 r9 n11 k13 j15 l17 n19 l21 n23 g25 h26 c27 h28 e30 h31 q33 n34 o36 q40 r42 q45 r46 s53 r55",
"s-36 r-16 s-13 r-9 q-6 l-4 g-3 z-2 b2 g3 j5 l6 q7 r8 q11 l12 j14 l16 m17 l19 n22 o25 i26 c27 h29 e30 n32 q35 r38 q40 r41 q44 r47 s50 r55",
"s-36 r-16 s-15 r-12 s-11 r-10 q-6 l-4 g-3 z-2 b2 g3 j5 l6 q7 r8 q11 l12 j14 k16 l18 n21 o24 l26 b27 i28 b29 l31 o33 r35 s36 r38 o39 r41 q44 r46 s50 r55",
"s-36 r-17 s-16 r-14 s-12 r-11 q-6 l-4 g-3 z-2 b2 i3 l5 n6 q7 r8 q11 l12 j14 g16 e17 g19 n21 o25 l27 h28 k30 o32 r34 s35 r37 q39 s41 r44 q46 r47 s50 r55 o56",
"s-36 r-18 s-17 r-15 q-6 l-4 e-3 z-2 b2 h3 l5 n6 q7 r8 q11 l12 i14 g16 e17 c18 z19 g21 l22 n24 o26 r28 s30 r33 s35 r37 q39 s41 r44 q46 r47 s50 r55 o56",
"s-36 r-18 s-17 r-16 q-6 n-4 e-3 z-2 b2 h3 l5 n6 q8 o10 l12 j14 g16 e17 b18 z19 a20 g21 l22 n24 o26 q27 s29 r33 s35 r37 q39 s41 r44 q46 r47 s50 r55 q56",
"s-36 r-22 s-21 r-19 o-12 q-6 n-4 g-3 z-2 b2 j3 l5 o7 q8 n10 k13 i15 g16 e17 z19 g21 h22 l24 m25 o26 q27 s29 r33 s35 r37 q39 s41 r44 q46 r47 s50 r55 o56",
"s-36 r-24 s-22 r-18 o-15 r-14 q-6 n-4 g-3 z-2 b2 j3 l5 n7 o8 l10 j13 i15 g16 z19 b21 g22 j24 m25 o27 q28 s29 r33 s35 r37 q39 s41 r44 q46 r47 s50 q55 m56",
"s-36 r-29 s-25 r-22 s-21 r-19 q-15 r-13 s-9 r-8 q-6 n-4 g-3 z-2 j3 e4 l6 n7 o8 l10 j13 k15 i16 g17 z19 g21 h22 l25 m27 o28 s29 r33 q37 r39 s41 r44 q46 r47 s50 l55 h56",
"s-36 r-29 s-27 r-25 s-22 r-20 s-9 q-7 n-4 g-3 z-2 h3 e5 l7 n8 j11 k12 j14 i16 g17 z19 b21 g22 l25 m27 o28 s29 r33 o36 q38 s41 r44 q46 r47 s50 t51 s52 r55 n56",
"s-36 r-33 s-31 r-28 s-26 r-24 s-22 r-19 q-15 s-9 q-7 n-4 g-3 z-2 h3 e5 l7 n8 q10 l12 j14 l16 g17 b19 g21 l24 n27 o28 s29 r33 o36 n38 q39 s41 r44 q46 r47 s50 t51 s52 r55 k56",
"s-36 r-35 s-33 r-31 s-30 r-26 s-23 r-20 o-17 r-16 s-12 q-8 n-5 g-4 e-3 z-2 h3 e5 n7 o9 l11 n13 j14 l16 o18 h19 g21 l24 o27 q28 s29 r33 o36 q39 s41 r44 q46 r47 s50 t51 s52 r55 k56",
"s-36 r-34 s-31 r-27 s-24 r-20 q-17 o-16 r-15 s-13 q-8 n-5 g-4 e-3 z-2 g3 e5 l7 n9 l11 o13 j14 l15 o18 n19 g21 l24 n26 q28 s29 r33 o35 n37 q39 s41 q44 r46 s50 t51 s52 q55 j56",
"r-36 s-35 r-33 s-30 r-26 s-24 r-21 o-18 s-14 q-8 n-5 g-4 e-3 z-2 h3 e5 n7 o9 l11 n12 l13 j15 o18 g19 h20 l22 n25 q27 s29 r33 o35 n37 q39 r41 q44 r46 s50 t51 s52 q55 l56",
"r-36 s-35 r-34 s-31 r-26 s-24 r-22 o-19 r-17 s-14 q-8 n-5 g-4 e-3 z-2 g3 e5 n7 q9 n11 l13 k15 o17 l19 j20 n22 l24 o26 r28 s29 r33 o35 n38 q40 r42 q44 r46 s50 t51 s52 o55 l56",
"s-36 r-34 s-32 r-25 s-23 r-20 q-18 r-17 s-14 r-9 o-8 n-5 g-4 e-3 z-2 h3 e5 n7 l11 m12 k14 o17 h18 l19 m21 n24 o27 q28 s30 r33 n36 o39 n41 o43 r45 q47 s50 r55 q56",
"s-36 r-34 s-31 r-25 s-24 r-21 s-20 r-18 s-14 o-8 n-5 h-4 e-3 z-2 g3 e5 l7 n9 l11 k13 o17 l19 n21 l23 n26 q28 s30 r33 n35 j38 l40 n42 o44 q46 r48 s50 r55 n56",
"s-36 r-33 s-31 r-27 s-24 l-22 r-21 s-20 r-18 s-17 r-15 s-14 o-8 n-5 h-4 e-3 z-2 g3 e5 l7 q9 l11 k13 h15 o17 n19 l20 n23 o26 r28 s30 q33 n35 k37 j39 l41 n43 o45 r47 s50 r54 l56",
"r-36 s-33 r-29 o-27 l-26 r-25 s-24 r-22 s-20 r-19 s-18 r-17 s-16 q-8 l-5 h-4 e-3 z-2 g3 e5 l6 n8 q9 l11 k14 h15 g16 o17 l19 k22 n24 o27 r29 s31 q33 n35 k37 j38 l41 o43 r45 q47 s50 r53 l55 g56",
"r-36 s-35 r-30 o-28 h-26 r-25 s-21 r-20 s-18 r-16 s-15 r-10 o-8 n-5 i-4 e-3 z-2 g3 e5 n7 l8 q9 l11 i13 e14 g16 j17 n18 l20 k22 n24 o27 r29 s31 q33 n35 l37 j39 l41 n44 o45 r47 s50 r53 o55 j56",
"s-36 r-33 s-31 r-29 l-28 o-27 h-26 o-25 r-24 r-21 s-19 r-17 s-14 r-9 o-8 l-5 d-4 c-3 z-2 h3 g4 e5 n7 q9 l11 h13 e14 h16 n18 l20 n22 o25 q27 r29 s31 o33 l35 j37 i39 k41 l44 n45 r47 s49 r51 o53 i56",
"r-36 s-35 r-33 s-32 r-30 o-29 l-28 o-27 l-26 q-25 r-24 o-22 l-21 r-20 s-19 r-17 s-13 r-9 o-8 l-5 c-4 d-3 z-2 a2 e3 g4 n7 q9 n11 j13 e14 h16 l18 n20 o23 n25 q27 r29 s32 q33 n35 k37 j39 l41 n44 q46 s49 n50 o53 g55 c56",
"s-36 r-35 s-33 r-31 n-29 o-28 m-27 g-26 o-25 r-24 q-22 n-21 r-20 s-19 r-17 s-13 r-9 o-8 l-5 d-4 c-3 z-2 e3 g4 n7 o9 n11 j12 g13 e14 h17 l18 n20 k25 j27 l29 o31 q33 o35 k37 j39 l42 n45 q47 l49 n50 j53 g55 b56",
"r-36 o-35 r-33 s-31 r-29 n-28 i-27 m-26 o-24 r-22 l-21 o-20 s-18 r-16 s-15 r-11 o-8 l-5 g-4 c-3 z-2 g3 l7 o9 l11 i13 e14 h16 n18 l21 j23 k25 h27 l29 o30 q32 l34 k37 j39 l41 n44 l46 k48 j51 g54 a55",
"o-36 q-34 n-31 l-29 j-28 o-27 q-25 o-23 l-21 o-20 s-19 r-18 s-17 r-15 s-14 r-13 s-10 q-8 l-5 g-4 a-3 z-2 g3 l7 n9 j11 e14 i16 l18 n20 k22 h24 g25 j27 l28 o30 l33 k36 z39 j40 k42 l44 k46 j49 h52 a55",
"n-36 o-35 l-33 n-31 k-29 z-28 c-27 n-26 o-25 l-24 n-23 c-22 z-21 r-20 q-18 r-15 q-14 l-5 e-4 z-2 g3 n7 l10 j12 e14 h16 l19 n21 k23 h24 g27 o29 n32 l34 k37 z39 j40 d42 l43 k46 j49 h52 b55 z56",
"o-36 n-35 l-33 k-29 z-28 c-27 n-26 l-24 n-23 b-22 z-21 q-20 r-18 q-15 r-13 q-8 k-5 e-4 z-3 g3 l7 n8 l11 j12 e14 h17 l19 j21 h23 g24 o27 n31 l35 k37 z39 h40 c41 l43 n46 l50 n53 a55 z56"
];

var page = document.getElementById('page');

function addCanvas(left, top, width, height) {
    var c = document.createElement('canvas');
    c.width = width;
    c.height = height;
    c.style.left = left + 'px';
    c.style.top = top + 'px';
    c.style.width = width + 'px';
    c.style.height = height + 'px';
    page.appendChild(c);
    return c;
}

function addText(html, x, y, size, cls) {
    var d = document.createElement('div');
    d.className = 'txt ' + (cls || '');
    d.innerHTML = html;
    d.style.left = x + 'px';
    d.style.top = y + 'px';
    d.style.fontSize = size + 'px';
    page.appendChild(d);
}

// turn a row string into one colour per longitude column
function rowColors(row) {
    var colors = lonCenters.map(function () { return missingColor; });
    row.split(' ').forEach(function (tok) {
        var start = parseInt(tok.slice(1));
        var col = tok[0] == 'z' ? missingColor : levelColors[levelCodes.indexOf(tok[0])];
        lonCenters.forEach(function (lon, i) {
            if (lon >= start) colors[i] = col;
        });
    });
    return colors;
}

// frame with the inward ticks on all four sides
var framePlugin = {
    id: 'frame',
    afterDatasetsDraw: function (chart) {
        var ctx = chart.ctx, a = chart.chartArea, x = chart.scales.x, y = chart.scales.y;
        ctx.save();
        ctx.strokeStyle = '#222';
        ctx.lineWidth = 2;
        function line(x1, y1, x2, y2) { ctx.beginPath(); ctx.moveTo(x1, y1); ctx.lineTo(x2, y2); ctx.stroke(); }
        xMajorTicks.forEach(function (v) {
            var p = x.getPixelForValue(v);
            line(p, a.top, p, a.top + 13);
            line(p, a.bottom, p, a.bottom - 14);
        });
        xMinorTicks.forEach(function (v) {
            var p = x.getPixelForValue(v);
            line(p, a.top, p, a.top + 7);
            line(p, a.bottom, p, a.bottom - 7);
        });
        for (var i = 1; i <= 33; i++) {
            var p = y.getPixelForValue(i / 10);
            var len = i % 10 == 0 ? 16 : 8;
            line(a.left, p, a.left + len, p);
            line(a.right, p, a.right - len, p);
        }
        ctx.strokeStyle = '#5a5a5a';
        ctx.strokeRect(a.left, a.top, a.right - a.left, a.bottom - a.top);
        ctx.restore();
    }
};

function drawPanel(rows, frameLeft, frameTop, showLon, showDepthTitle) {
    var bottom = showLon ? 46 : 6;
    var canvas = addCanvas(frameLeft - 58, frameTop - 4, 58 + 738 + 6, 4 + 270 + bottom);
    var datasets = [{
        data: lonCenters.map(function () { return surfaceDepth; }),
        backgroundColor: 'rgba(0,0,0,0)'
    }];
    rows.forEach(function (row) {
        datasets.push({
            data: lonCenters.map(function () { return rowThickness; }),
            backgroundColor: rowColors(row)
        });
    });
    new Chart(canvas, {
        type: 'bar',
        data: { labels: lonCenters, datasets: datasets },
        plugins: [framePlugin],
        options: {
            responsive: false,
            animation: false,
            events: [],
            layout: { padding: { top: 4, right: 6 } },
            datasets: { bar: { barPercentage: 1, categoryPercentage: 1, borderWidth: 0, inflateAmount: 0.5 } },
            plugins: { legend: { display: false }, tooltip: { enabled: false } },
            scales: {
                x: {
                    type: 'linear', stacked: true, offset: false, min: -35.55, max: 57.5,
                    grid: { display: false }, border: { display: false },
                    afterBuildTicks: function (s) { s.ticks = xMajorTicks.map(function (v) { return { value: v }; }); },
                    afterFit: function (s) { s.height = bottom; s.paddingLeft = 0; s.paddingRight = 0; },
                    ticks: { display: showLon, autoSkip: false, maxRotation: 0, padding: 9, color: '#5a5a5a', font: { family: 'Liberation Sans', size: 18 } }
                },
                y: {
                    type: 'linear', stacked: true, reverse: true, min: 0, max: 3.4,
                    grid: { display: false }, border: { display: false },
                    afterBuildTicks: function (s) { s.ticks = depthTicks.map(function (v) { return { value: v }; }); },
                    afterFit: function (s) { s.width = 58; s.paddingTop = 0; s.paddingBottom = 0; },
                    title: { display: showDepthTitle, text: 'depth (km)', color: '#5a5a5a', padding: { top: 7, bottom: 0 }, font: { family: 'Liberation Sans', size: 17 } },
                    ticks: {
                        autoSkip: false, padding: 6, labelOffset: 3, color: '#5a5a5a', font: { family: 'Liberation Sans', size: 18 },
                        callback: function (v, i) { return depthTickLabels[i]; }
                    }
                }
            }
        }
    });
}

function drawScale(ticks, maxValue, decimals, frameLeft) {
    var canvas = addCanvas(frameLeft - 30, 1033, 738 + 60, 74);
    var step = maxValue / levelColors.length;
    var centres = levelColors.map(function (c, i) { return (i + 0.5) * step; });
    new Chart(canvas, {
        type: 'bar',
        data: { labels: centres, datasets: [{ data: levelColors.map(function () { return 1; }), backgroundColor: levelColors }] },
        options: {
            responsive: false,
            animation: false,
            events: [],
            layout: { padding: { top: 4, left: 30, right: 30 } },
            datasets: { bar: { barPercentage: 1, categoryPercentage: 1, borderWidth: 0, inflateAmount: 0.5 } },
            plugins: { legend: { display: false }, tooltip: { enabled: false } },
            scales: {
                x: {
                    type: 'linear', offset: false, min: 0, max: maxValue,
                    grid: { display: true, offset: false, color: '#222', lineWidth: 1.5, drawTicks: false, z: 1 }, border: { display: false },
                    afterBuildTicks: function (s) { s.ticks = ticks.map(function (v) { return { value: v }; }); },
                    afterFit: function (s) { s.height = 37; s.paddingLeft = 0; s.paddingRight = 0; },
                    ticks: {
                        autoSkip: false, maxRotation: 0, padding: 18, color: '#5a5a5a', font: { family: 'Liberation Sans', size: 17 },
                        callback: function (v) { return Number(v).toFixed(decimals); }
                    }
                },
                y: { display: false, min: 0, max: 1 }
            }
        }
    });
}

var leftFrame = 224, rightFrame = 1008.5;
var rowTops = [55, 373, 689];

drawPanel(sdLong, leftFrame, rowTops[0], false, true);
drawPanel(evLong, rightFrame, rowTops[0], false, false);
drawPanel(sdMid, leftFrame, rowTops[1], false, true);
drawPanel(evMid, rightFrame, rowTops[1], false, false);
drawPanel(sdShort, leftFrame, rowTops[2], true, true);
drawPanel(evShort, rightFrame, rowTops[2], true, false);
drawScale(sdScaleTicks, 3, 1, leftFrame);
drawScale(evScaleTicks, 100, 0, rightFrame);

addText('MOC standard deviation', 595, 26, 43, 'big');
addText('Explained variance (%)', 1373, 26, 43, 'big');
addText('&gt; 10 yrs', 103, 190, 43, 'big rot');
addText('1.5 – 10 yrs', 103, 504, 43, 'big rot');
addText('&lt; 1.5 yrs', 103, 823, 43, 'big rot');
addText('Timescale', 39, 507, 44, 'big rot');
addText('periods 1.5 - 10 years', 594, 352, 23);
addText('periods 1.5 - 10 years', 1378, 352, 23);
addText('periods &lt; 1.5 years', 594, 669, 23);
addText('periods &lt; 1.5 years', 1378, 669, 23);
addText('Scale (Sv/km or 10<sup>3</sup> m<sup>2</sup>s<sup>-1</sup>)', 592, 1017, 23);
addText('Scale (%)', 1376, 1017, 23);
</script>
</body>
</html>
